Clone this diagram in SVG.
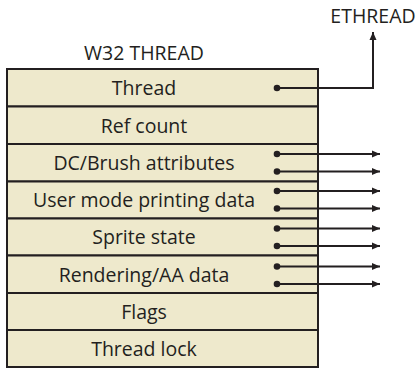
<svg xmlns="http://www.w3.org/2000/svg" width="418" height="368" viewBox="0 0 418 368">
<defs>
<marker id="ah" markerWidth="8" markerHeight="8" viewBox="0 0 8 8" refX="8" refY="4" orient="auto" markerUnits="userSpaceOnUse">
<path d="M0,0.5 L8,4 L0,7.5 Z" fill="#231f20"/>
</marker>
<style>
.row{fill:#eee9cc;stroke:#231f20;stroke-width:2}
.t{font-family:"Open Sans","Noto Sans","Liberation Sans",sans-serif;font-size:19.5px;fill:#231f20;text-anchor:middle}
.c{stroke:#231f20;stroke-width:2;fill:none;marker-end:url(#ah)}
.d{fill:#231f20}
</style>
</defs>
<text class="t" x="144" y="60">W32 THREAD</text>
<text class="t" x="373" y="23">ETHREAD</text>
<g id="r1"><rect class="row" x="7" y="69" width="311" height="37.5"/><text class="t" x="144" y="95">Thread</text></g>
<g id="r2"><rect class="row" x="7" y="106.5" width="311" height="37.5"/><text class="t" x="144" y="132.5">Ref count</text></g>
<g id="r3"><rect class="row" x="7" y="144" width="311" height="37.5"/><text class="t" x="144" y="170">DC/Brush attributes</text></g>
<g id="r4"><rect class="row" x="7" y="181.5" width="311" height="37"/><text class="t" x="144" y="207">User mode printing data</text></g>
<g id="r5"><rect class="row" x="7" y="218.5" width="311" height="37"/><text class="t" x="144" y="244">Sprite state</text></g>
<g id="r6"><rect class="row" x="7" y="255.5" width="311" height="37.5"/><text class="t" x="144" y="281.5">Rendering/AA data</text></g>
<g id="r7"><rect class="row" x="7" y="293" width="311" height="37"/><text class="t" x="144" y="318.5">Flags</text></g>
<g id="r8"><rect class="row" x="7" y="330" width="311" height="37"/><text class="t" x="144" y="355.5">Thread lock</text></g>
<g id="connectors">
<circle class="d" cx="277" cy="88" r="3.3"/>
<path class="c" d="M277,88 H373 V32"/>
<circle class="d" cx="277" cy="154" r="3.3"/><path class="c" d="M277,154 H380"/>
<circle class="d" cx="277" cy="171.5" r="3.3"/><path class="c" d="M277,171.5 H380"/>
<circle class="d" cx="277" cy="191" r="3.3"/><path class="c" d="M277,191 H380"/>
<circle class="d" cx="277" cy="208.5" r="3.3"/><path class="c" d="M277,208.5 H380"/>
<circle class="d" cx="277" cy="228.5" r="3.3"/><path class="c" d="M277,228.5 H380"/>
<circle class="d" cx="277" cy="246" r="3.3"/><path class="c" d="M277,246 H380"/>
<circle class="d" cx="277" cy="266.5" r="3.3"/><path class="c" d="M277,266.5 H380"/>
<circle class="d" cx="277" cy="284" r="3.3"/><path class="c" d="M277,284 H380"/>
</g>
</svg>
